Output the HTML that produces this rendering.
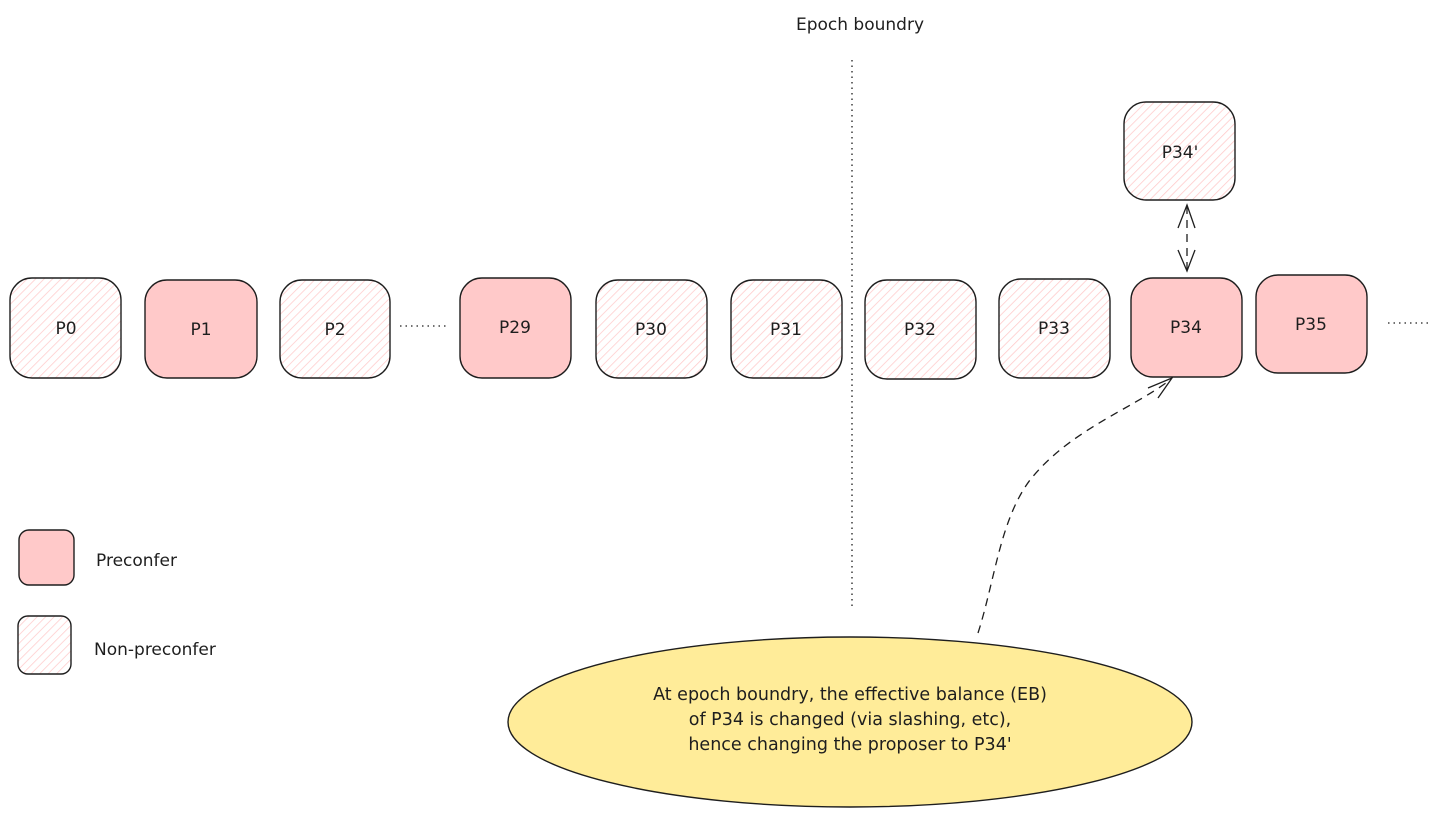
<!DOCTYPE html>
<html><head><meta charset="utf-8"><style>
html,body{margin:0;padding:0;background:#fff;}
svg{display:block;font-family:"DejaVu Sans","Liberation Sans",sans-serif;}
text{fill:#1e1e1e;font-size:17px;}
</style></head><body>
<svg width="1445" height="818" viewBox="0 0 1445 818" xmlns="http://www.w3.org/2000/svg">
<defs>
<pattern id="h" width="6" height="6" patternUnits="userSpaceOnUse" patternTransform="rotate(45)">
<rect width="6" height="6" fill="#fff"/>
<line x1="0" y1="0" x2="0" y2="6" stroke="#ffc9c9" stroke-width="1.5"/>
</pattern>
</defs>
<g stroke="#1e1e1e" stroke-width="1.4">
<rect x="10" y="278" width="111" height="100" rx="22" fill="url(#h)"/>
<rect x="145" y="280" width="112" height="98" rx="22" fill="#ffc9c9"/>
<rect x="280" y="280" width="110" height="98" rx="22" fill="url(#h)"/>
<rect x="460" y="278" width="111" height="100" rx="22" fill="#ffc9c9"/>
<rect x="596" y="280" width="111" height="98" rx="22" fill="url(#h)"/>
<rect x="731" y="280" width="111" height="98" rx="22" fill="url(#h)"/>
<rect x="865" y="280" width="111" height="99" rx="22" fill="url(#h)"/>
<rect x="999" y="279" width="111" height="99" rx="22" fill="url(#h)"/>
<rect x="1131" y="278" width="111" height="99" rx="22" fill="#ffc9c9"/>
<rect x="1256" y="275" width="111" height="98" rx="22" fill="#ffc9c9"/>
<rect x="1124" y="102" width="111" height="98" rx="22" fill="url(#h)"/>
<rect x="19" y="530" width="55" height="55" rx="10" fill="#ffc9c9"/>
<rect x="18" y="616" width="53" height="58" rx="10" fill="url(#h)"/>
<ellipse cx="850" cy="722" rx="342" ry="85" fill="#ffec99"/>
</g>
<g stroke="#1e1e1e" stroke-width="1.3" fill="none">
<line x1="852" y1="60" x2="852" y2="606" stroke-dasharray="1.5 4"/>
<line x1="400" y1="326" x2="447" y2="326" stroke-dasharray="1.5 4"/>
<line x1="1388" y1="323" x2="1432" y2="323" stroke-dasharray="1.5 4"/>
<line x1="1187" y1="206" x2="1187" y2="270" stroke-dasharray="8 6"/>
<path d="M1178 228 L1187 205 L1195 228 M1178 250 L1187 271 L1195 250"/>
<path d="M978 633 C995 580 1000 520 1030 480 C1070 430 1130 410 1170 380" stroke-dasharray="8 6"/>
<path d="M1148 388 L1172 378 L1158 398"/>
</g>
<g text-anchor="middle">
<text x="66" y="334">P0</text>
<text x="201" y="335">P1</text>
<text x="335" y="335">P2</text>
<text x="515" y="333">P29</text>
<text x="651" y="335">P30</text>
<text x="786" y="335">P31</text>
<text x="920" y="335">P32</text>
<text x="1054" y="334">P33</text>
<text x="1186" y="333">P34</text>
<text x="1311" y="330">P35</text>
<text x="1180" y="158">P34'</text>
<text x="860" y="30">Epoch boundry</text>
<text x="850" y="700" style="font-size:17.5px">At epoch boundry, the effective balance (EB)</text>
<text x="850" y="725" style="font-size:17.5px">of P34 is changed (via slashing, etc),</text>
<text x="850" y="750" style="font-size:17.5px">hence changing the proposer to P34'</text>
</g>
<text x="96" y="566">Preconfer</text>
<text x="94" y="655">Non-preconfer</text>
</svg>
</body></html>
